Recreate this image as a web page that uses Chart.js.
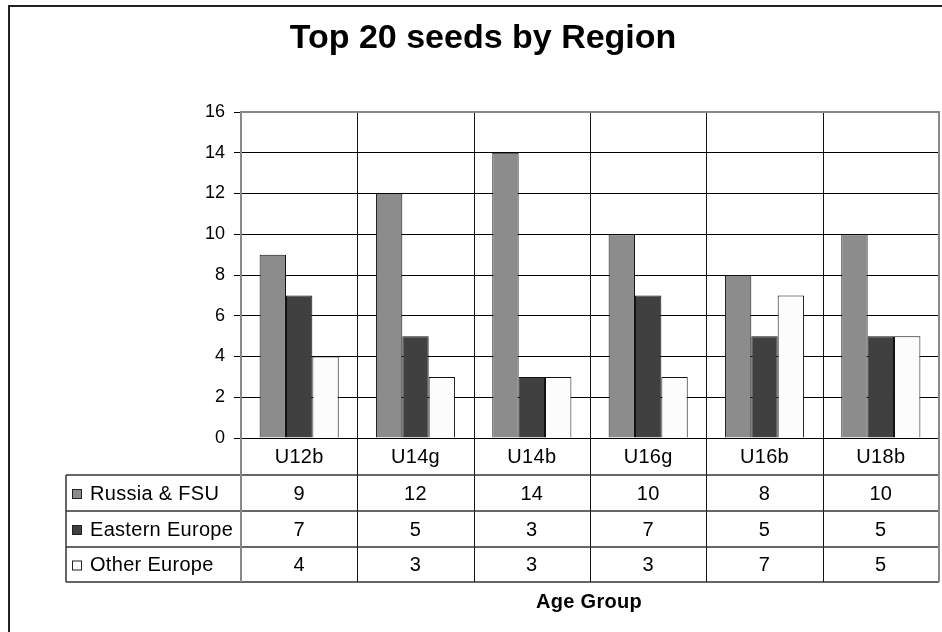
<!DOCTYPE html>
<html>
<head>
<meta charset="utf-8">
<title>Top 20 seeds by Region</title>
<script src="https://cdn.jsdelivr.net/npm/chart.js@4.4.1/dist/chart.umd.min.js"></script>
<style>
  html, body { margin: 0; padding: 0; background: #fff; }
  canvas { display: block; }
</style>
</head>
<body>
<canvas id="chart" width="942" height="632"></canvas>
<script>
// data
const categories = ['U12b', 'U14g', 'U14b', 'U16g', 'U16b', 'U18b'];
const seriesNames = ['Russia & FSU', 'Eastern Europe', 'Other Europe'];
const russiaFsu = [9, 12, 14, 10, 8, 10];
const easternEurope = [7, 5, 3, 7, 5, 5];
const otherEurope = [4, 3, 3, 3, 7, 5];
const yMin = 0, yMax = 16, yStep = 2;

const fills = ['#8c8c8c', '#404040', '#fcfcfc'];
const FONT = '"Liberation Sans", Arial, sans-serif';

Chart.defaults.font.family = FONT;
Chart.defaults.color = '#000';

// title, frame, category separators and the data table under the plot
const excelTable = {
  id: 'excelTable',
  afterDraw(chart) {
    const ctx = chart.ctx;
    const area = chart.chartArea;
    const x = chart.scales.x;
    const half = (x.getPixelForValue(1) - x.getPixelForValue(0)) / 2;
    const rows = [area.bottom, 475, 511, 547, 582];
    const tableLeft = 66;

    ctx.save();

    // outer frame
    ctx.strokeStyle = '#222';
    ctx.lineWidth = 2;
    ctx.beginPath();
    ctx.moveTo(9, 632);
    ctx.lineTo(9, 6);
    ctx.lineTo(942, 6);
    ctx.stroke();

    // title
    ctx.fillStyle = '#000';
    ctx.font = 'bold 34px ' + FONT;
    ctx.textAlign = 'center';
    ctx.textBaseline = 'alphabetic';
    ctx.fillText('Top 20 seeds by Region', 483, 48);

    // vertical separators between categories (plot + table)
    ctx.strokeStyle = '#111';
    ctx.lineWidth = 1;
    for (let i = 1; i < categories.length; i++) {
      const px = Math.round(x.getPixelForValue(i) - half) + 0.5;
      ctx.beginPath();
      ctx.moveTo(px, area.top);
      ctx.lineTo(px, rows[4]);
      ctx.stroke();
    }

    // table horizontal lines
    ctx.strokeStyle = '#333';
    ctx.lineWidth = 1.5;
    for (let r = 1; r < rows.length; r++) {
      ctx.beginPath();
      ctx.moveTo(tableLeft, rows[r]);
      ctx.lineTo(area.right, rows[r]);
      ctx.stroke();
    }
    ctx.beginPath();
    ctx.moveTo(tableLeft, rows[1]);
    ctx.lineTo(tableLeft, rows[4]);
    ctx.stroke();

    // axis line continued through table, plot border
    ctx.strokeStyle = '#888';
    ctx.lineWidth = 2;
    ctx.beginPath();
    ctx.moveTo(area.left, area.bottom);
    ctx.lineTo(area.left, rows[4]);
    ctx.stroke();
    ctx.beginPath();
    ctx.moveTo(area.left, area.top);
    ctx.lineTo(area.right, area.top);
    ctx.lineTo(area.right, rows[4]);
    ctx.stroke();

    // category labels
    ctx.fillStyle = '#000';
    ctx.font = '20px ' + FONT;
    ctx.letterSpacing = '0.3px';
    ctx.textBaseline = 'middle';
    ctx.textAlign = 'center';
    categories.forEach((c, i) => {
      ctx.fillText(c, x.getPixelForValue(i), (rows[0] + rows[1]) / 2 + 1);
    });

    // series rows
    const series = [russiaFsu, easternEurope, otherEurope];
    series.forEach((vals, r) => {
      const cy = (rows[r + 1] + rows[r + 2]) / 2 + 1;
      ctx.fillStyle = fills[r];
      ctx.strokeStyle = '#222';
      ctx.lineWidth = 1;
      ctx.fillRect(72, cy - 5, 9, 9);
      ctx.strokeRect(72.5, cy - 4.5, 9, 9);
      ctx.fillStyle = '#000';
      ctx.textAlign = 'left';
      ctx.fillText(seriesNames[r], 90, cy);
      ctx.textAlign = 'center';
      vals.forEach((v, i) => ctx.fillText(String(v), x.getPixelForValue(i), cy));
    });

    // axis title
    ctx.font = 'bold 20px ' + FONT;
    ctx.fillText('Age Group', 589, 602);

    ctx.restore();
  }
};

new Chart(document.getElementById('chart'), {
  type: 'bar',
  data: {
    labels: categories,
    datasets: [
      { label: seriesNames[0], data: russiaFsu, backgroundColor: fills[0] },
      { label: seriesNames[1], data: easternEurope, backgroundColor: fills[1] },
      { label: seriesNames[2], data: otherEurope, backgroundColor: fills[2] },
    ].map(d => Object.assign(d, {
      borderColor: '#111',
      borderWidth: 1,
      borderSkipped: 'bottom',
      categoryPercentage: 0.68,
      barPercentage: 1,
    })),
  },
  options: {
    responsive: false,
    animation: false,
    layout: { padding: { top: 112, right: 3, bottom: 194, left: 0 } },
    plugins: {
      legend: { display: false },
      title: { display: false },
      tooltip: { enabled: false },
    },
    scales: {
      x: { display: false },
      y: {
        min: yMin,
        max: yMax,
        ticks: { stepSize: yStep, color: '#000', font: { size: 18 }, padding: 9 },
        grid: { color: '#000', lineWidth: 1, tickLength: 7 },
        border: { color: '#888', width: 2 },
        afterFit(scale) { scale.width = 241; },
      },
    },
  },
  plugins: [excelTable],
});
</script>
</body>
</html>
